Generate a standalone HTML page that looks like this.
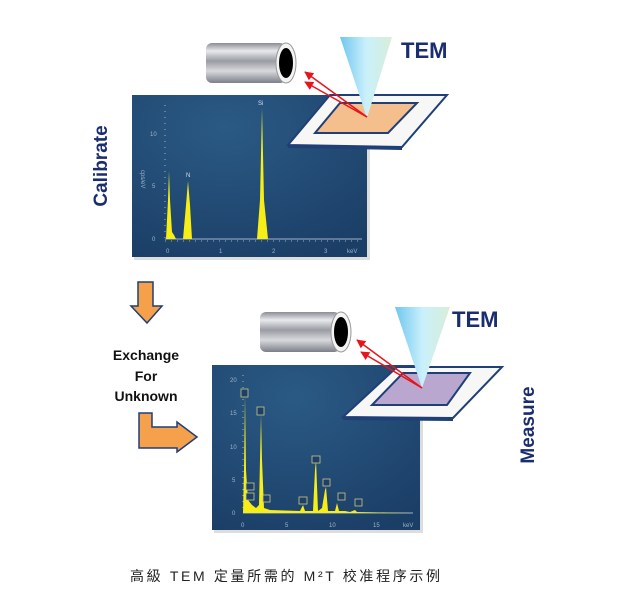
<!DOCTYPE html>
<html><head><meta charset="utf-8"><style>
html,body{margin:0;padding:0;background:#fff;}
svg{display:block;}
</style></head><body>
<svg width="635" height="605" viewBox="0 0 635 605" xmlns="http://www.w3.org/2000/svg">
<defs>
<linearGradient id="cyl" x1="0" y1="0" x2="0" y2="1">
<stop offset="0" stop-color="#8a8d95"/><stop offset="0.2" stop-color="#e8e9ec"/><stop offset="0.45" stop-color="#9a9ca4"/><stop offset="0.7" stop-color="#d8d9dd"/><stop offset="1" stop-color="#7c7f88"/>
</linearGradient>
<linearGradient id="cone" x1="0" y1="0" x2="1" y2="0">
<stop offset="0" stop-color="#6fc6ef"/><stop offset="0.5" stop-color="#c9f0fb"/><stop offset="1" stop-color="#d8eed8"/>
</linearGradient>
<radialGradient id="panel" cx="0.4" cy="0.2" r="0.9">
<stop offset="0" stop-color="#2a5a85"/><stop offset="1" stop-color="#1b3e66"/>
</radialGradient>
<marker id="ah" viewBox="0 0 10 10" refX="9" refY="5" markerWidth="6" markerHeight="6" orient="auto"><path d="M0,0 L10,5 L0,10 z" fill="#e8141a"/></marker>
</defs>

<rect x="134" y="97" width="236" height="163" fill="#aaa" opacity="0.4"/>
<rect x="132" y="95" width="235" height="162" fill="url(#panel)"/>
<g stroke="#9fb3c8" stroke-width="1" fill="#9fb3c8" font-family="Liberation Sans, sans-serif" font-size="6">
<line x1="165" y1="105" x2="165" y2="239" stroke-dasharray="1,5"/>
<line x1="165" y1="239" x2="362" y2="239"/>
<line x1="165" y1="239" x2="362" y2="239" stroke-dasharray="1,5" transform="translate(0,2)"/>
<text x="150" y="136" stroke="none">10</text><text x="152" y="188" stroke="none">5</text><text x="152" y="241" stroke="none">0</text>
<text x="166" y="253" stroke="none">0</text><text x="219" y="253" stroke="none">1</text><text x="272" y="253" stroke="none">2</text><text x="324" y="253" stroke="none">3</text><text x="347" y="253" stroke="none">keV</text>
<text x="141" y="170" stroke="none" transform="rotate(90 141 170)">cps/eV</text>
<text x="186" y="177" stroke="none" fill="#dde">N</text><text x="258" y="105" stroke="none" fill="#dde">Si</text>
</g>
<path d="M166,239 L168,200 L169,171 L170,200 L172,232 L174,235 L176,239 Z M183,239 L186,205 L188,181 L190,205 L192,239 Z M257,239 L260,200 L262,108 L264,200 L268,239 Z" fill="#f6ee16"/>

<polygon points="330,95 447,95 402,147 288,145" fill="#f7f7f5" stroke="#1f3f78" stroke-width="2"/>
<polygon points="288,145 402,147 402,150 288,148" fill="#1f3f78"/>
<polygon points="340,103 417,103 388,133 315,133" fill="#f4bf8c" stroke="#1f3f78" stroke-width="2"/>
<polygon points="340,37 392,37 367,118" fill="url(#cone)"/>
<line x1="367" y1="117" x2="305" y2="72" stroke="#e8141a" stroke-width="1.5" marker-end="url(#ah)"/>
<line x1="367" y1="117" x2="305" y2="82" stroke="#e8141a" stroke-width="1.5" marker-end="url(#ah)"/>
<rect x="206" y="43" width="80" height="40" fill="url(#cyl)" rx="6"/>
<ellipse cx="286" cy="63" rx="10" ry="20" fill="#f4f4f4" stroke="#999"/>
<ellipse cx="286" cy="63" rx="7" ry="15" fill="#000"/>
<text x="401" y="58" font-family="Liberation Sans, sans-serif" font-size="22" font-weight="bold" fill="#1a2d6e">TEM</text>
<text x="107" y="166" font-family="Liberation Sans, sans-serif" font-size="19" font-weight="bold" fill="#1a2d6e" text-anchor="middle" transform="rotate(-90 107 166)">Calibrate</text>

<polygon points="138,282 153,282 153,306 162,306 147,323 131,306 138,306" fill="#f5a04a" stroke="#1f3f78" stroke-width="1.5"/>
<polygon points="139,413 152,413 152,427 177,427 177,422 197,437 177,452 177,448 139,448" fill="#f5a04a" stroke="#1f3f78" stroke-width="1.5"/>
<g font-family="Liberation Sans, sans-serif" font-size="14" font-weight="bold" fill="#111" text-anchor="middle">
<text x="146" y="360">Exchange</text><text x="146" y="381">For</text><text x="146" y="401">Unknown</text>
</g>

<rect x="214" y="367" width="209" height="166" fill="#aaa" opacity="0.4"/>
<rect x="212" y="365" width="208" height="165" fill="url(#panel)"/>
<g stroke="#9fb3c8" stroke-width="1" fill="#9fb3c8" font-family="Liberation Sans, sans-serif" font-size="6">
<line x1="243" y1="375" x2="243" y2="513" stroke-dasharray="1,5"/>
<line x1="243" y1="513" x2="413" y2="513"/>
<text x="230" y="382" stroke="none">20</text><text x="230" y="415" stroke="none">15</text><text x="230" y="449" stroke="none">10</text><text x="232" y="482" stroke="none">5</text><text x="232" y="515" stroke="none">0</text>
<text x="241" y="527" stroke="none">0</text><text x="285" y="527" stroke="none">5</text><text x="329" y="527" stroke="none">10</text><text x="373" y="527" stroke="none">15</text><text x="403" y="527" stroke="none">keV</text>
</g>
<path d="M243,513 L244,470 L245,395 L246,470 L248,500 L252,505 L256,508 L259,505 L260,460 L261,415 L262,460 L264,508 L270,510 L300,511 L303,505 L305,511 L313,511 L315,470 L316,460 L318,511 L322,508 L325,490 L326,487 L328,511 L335,511 L337,503 L339,511 L345,511 L350,512 L355,510 L357,512 L413,513 Z" fill="#f6ee16"/>
<g fill="#1e3f66" stroke="#c9c98a" stroke-width="0.8">
<rect x="241" y="389" width="7" height="8"/><rect x="257" y="407" width="7" height="8"/><rect x="246" y="483" width="8" height="7"/><rect x="246" y="493" width="8" height="7"/><rect x="263" y="495" width="7" height="7"/><rect x="299" y="497" width="8" height="7"/><rect x="312" y="456" width="8" height="7"/><rect x="323" y="479" width="7" height="7"/><rect x="338" y="493" width="7" height="7"/><rect x="355" y="499" width="7" height="7"/>
</g>

<polygon points="397,367 502,367 453,418 343,417" fill="#f7f7f5" stroke="#1f3f78" stroke-width="2"/>
<polygon points="343,417 453,418 453,421 343,420" fill="#1f3f78"/>
<polygon points="403,373 470,373 447,405 372,405" fill="#b9a7d0" stroke="#1f3f78" stroke-width="2"/>
<polygon points="395,307 450,307 422,388" fill="url(#cone)"/>
<line x1="422" y1="388" x2="357" y2="340" stroke="#e8141a" stroke-width="1.5" marker-end="url(#ah)"/>
<line x1="422" y1="388" x2="361" y2="352" stroke="#e8141a" stroke-width="1.5" marker-end="url(#ah)"/>
<rect x="260" y="312" width="80" height="40" fill="url(#cyl)" rx="6"/>
<ellipse cx="341" cy="332" rx="10" ry="20" fill="#f4f4f4" stroke="#999"/>
<ellipse cx="341" cy="332" rx="7" ry="15" fill="#000"/>
<text x="452" y="327" font-family="Liberation Sans, sans-serif" font-size="22" font-weight="bold" fill="#1a2d6e">TEM</text>
<text x="534" y="425" font-family="Liberation Sans, sans-serif" font-size="19" font-weight="bold" fill="#1a2d6e" text-anchor="middle" transform="rotate(-90 534 425)">Measure</text>

<text x="285" y="581" font-family="Liberation Sans, 'Noto Sans CJK SC', sans-serif" font-size="14" fill="#222" text-anchor="middle" textLength="310" lengthAdjust="spacing">高級 TEM 定量所需的 M²T 校准程序示例</text>
</svg>
</body></html>
